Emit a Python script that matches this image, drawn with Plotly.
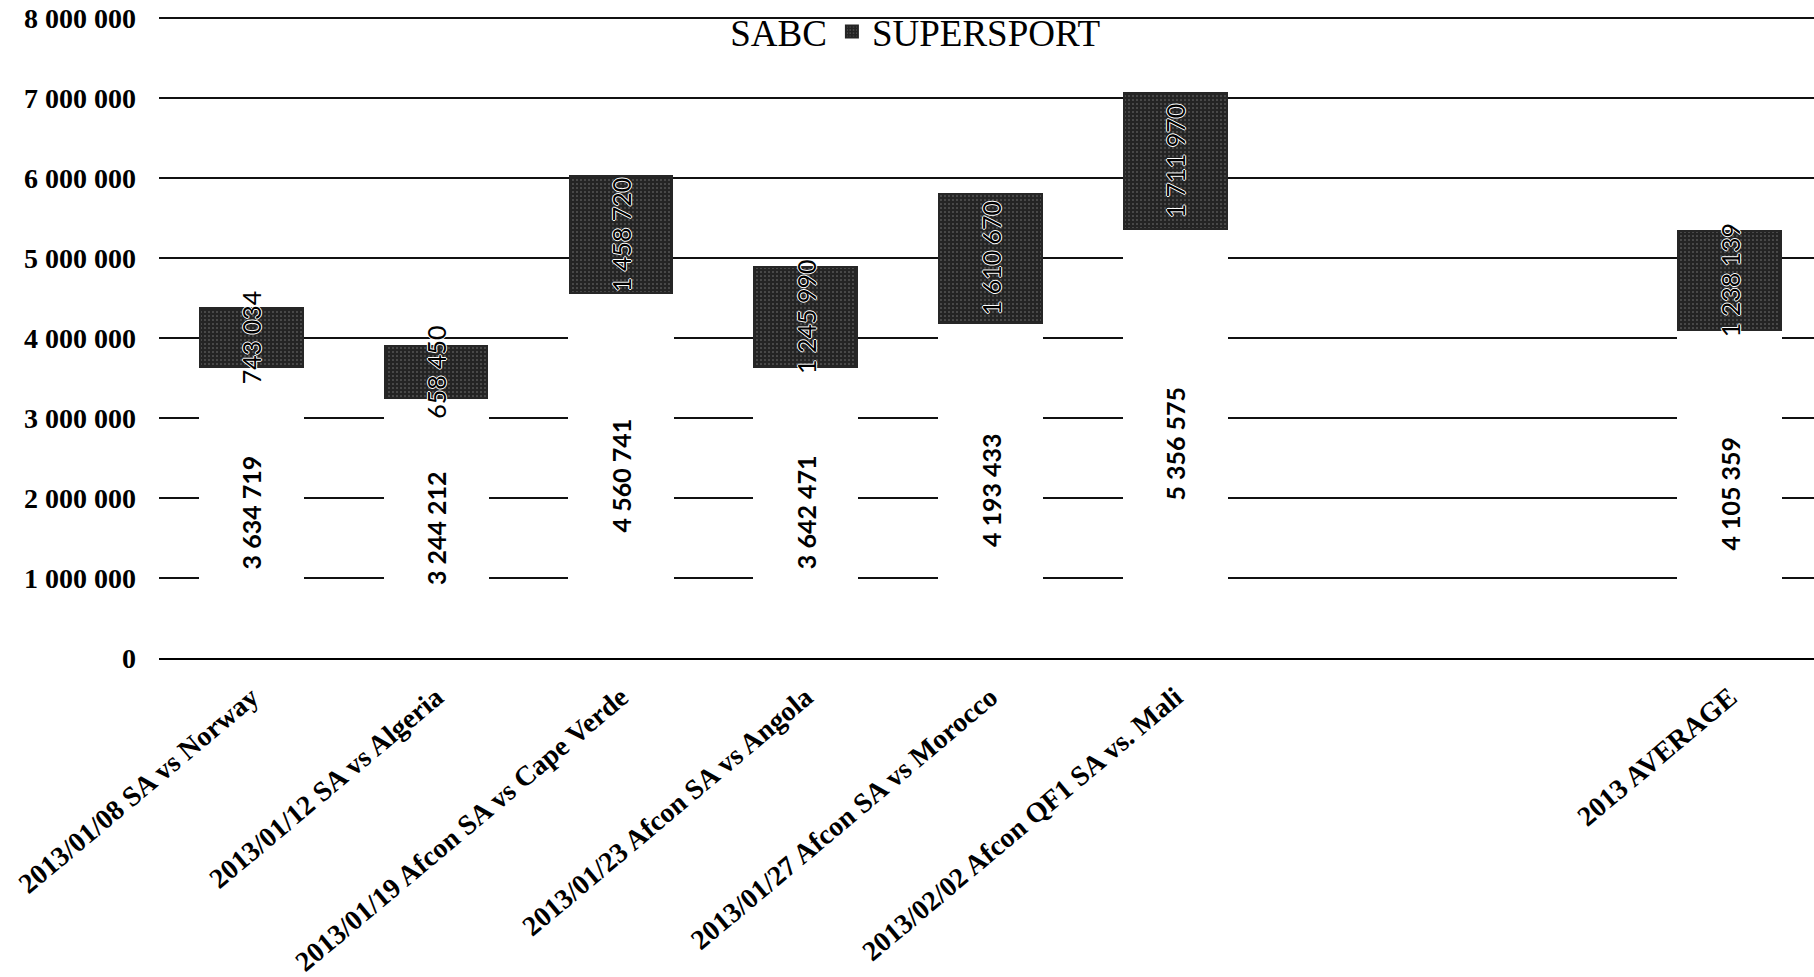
import plotly.graph_objects as go

# Audience figures per broadcaster for Bafana Bafana matches, 2013
matches = [
    "2013/01/08 SA vs Norway",
    "2013/01/12 SA vs Algeria",
    "2013/01/19 Afcon SA vs Cape Verde",
    "2013/01/23 Afcon SA vs Angola",
    "2013/01/27 Afcon SA vs Morocco",
    "2013/02/02 Afcon QF1 SA vs. Mali",
    "2013 AVERAGE",
]
sabc = [3634719, 3244212, 4560741, 3642471, 4193433, 5356575, 4105359]
supersport = [743034, 658450, 1458720, 1245990, 1610670, 1711970, 1238139]
y_ticks = [0, 1000000, 2000000, 3000000, 4000000, 5000000, 6000000, 7000000, 8000000]

# Slot of each category on the x axis (two empty slots before the average)
slots = [0, 1, 2, 3, 4, 5, 8]


def spaced(v):
    return f"{v:,}".replace(",", " ")


SERIF = "Liberation Serif, Times New Roman, serif"
LABEL_FONT = "Lato, Open Sans, sans-serif"

fig = go.Figure()

fig.add_trace(go.Bar(
    name="SABC",
    x=slots,
    y=sabc,
    width=0.57,
    marker=dict(color="white", line=dict(width=0)),
    text=[spaced(v) for v in sabc],
    textposition="inside",
    insidetextanchor="middle",
    textangle=-90,
    constraintext="none",
    textfont=dict(family=LABEL_FONT, size=25, color="black", weight="bold"),
    hoverinfo="skip",
))

fig.add_trace(go.Bar(
    name="SUPERSPORT",
    x=slots,
    y=supersport,
    width=0.555,
    marker=dict(
        color="#262626",
        line=dict(width=2, color="#262626"),
        pattern=dict(shape=".", fgcolor="#7a7a7a", bgcolor="#242424",
                     size=4, solidity=0.12, fillmode="replace"),
    ),
    text=[spaced(v) for v in supersport],
    textposition="inside",
    insidetextanchor="middle",
    textangle=-90,
    constraintext="none",
    textfont=dict(
        family=LABEL_FONT, size=25, color="black",
        shadow="1px 0 0 #fff, -1px 0 0 #fff, 0 1px 0 #fff, 0 -1px 0 #fff",
    ),
    hoverinfo="skip",
))

fig.update_layout(
    barmode="stack",
    width=1814,
    height=977,
    margin=dict(l=159, r=0, t=14, b=317),
    paper_bgcolor="white",
    plot_bgcolor="white",
    showlegend=True,
    legend=dict(
        orientation="h",
        x=0.321, xanchor="left",
        y=0.972, yanchor="middle",
        font=dict(family=SERIF, size=37, color="black"),
        bgcolor="rgba(0,0,0,0)",
        traceorder="normal",
        itemwidth=30,
    ),
    xaxis=dict(
        range=[-0.5, 8.456],
        tickmode="array",
        tickvals=slots,
        ticktext=matches,
        tickangle=-40,
        tickfont=dict(family=SERIF, size=28, color="black", weight="bold"),
        ticklabelstandoff=10,
        showgrid=False,
        showline=True,
        linecolor="black",
        linewidth=2,
        ticks="",
        zeroline=False,
    ),
    yaxis=dict(
        range=[0, 8050000],
        tickmode="array",
        tickvals=y_ticks,
        ticktext=[spaced(v) for v in y_ticks],
        tickfont=dict(family=SERIF, size=28, color="black", weight="bold"),
        showgrid=True,
        gridcolor="#111111",
        gridwidth=2,
        zeroline=False,
        ticks="",
        ticklabelstandoff=22,
    ),
)

fig.write_html("out.html")
